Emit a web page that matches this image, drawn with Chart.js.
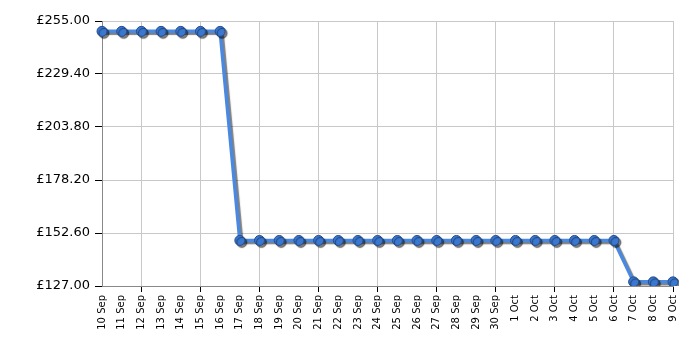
<!DOCTYPE html>
<html>
<head>
<meta charset="utf-8">
<script src="https://cdn.jsdelivr.net/npm/chart.js@4.4.0/dist/chart.umd.min.js"></script>
<style>
  html, body { margin: 0; padding: 0; background: #fff; }
  #wrap { width: 700px; height: 350px; }
</style>
</head>
<body>
<div id="wrap"><canvas id="priceChart" width="700" height="350"></canvas></div>
<script>
const labels = ['10 Sep', '11 Sep', '12 Sep', '13 Sep', '14 Sep', '15 Sep', '16 Sep', '17 Sep', '18 Sep', '19 Sep',
    '20 Sep', '21 Sep', '22 Sep', '23 Sep', '24 Sep', '25 Sep', '26 Sep', '27 Sep', '28 Sep', '29 Sep',
    '30 Sep', '1 Oct', '2 Oct', '3 Oct', '4 Oct', '5 Oct', '6 Oct', '7 Oct', '8 Oct', '9 Oct'];
const prices = [249.99, 249.99, 249.99, 249.99, 249.99, 249.99, 249.99, 149.00, 149.00, 149.00,
    149.00, 149.00, 149.00, 149.00, 149.00, 149.00, 149.00, 149.00, 149.00, 149.00,
    149.00, 149.00, 149.00, 149.00, 149.00, 149.00, 149.00, 129.00, 129.00, 129.00];
const yTicks = [127.00, 152.60, 178.20, 203.80, 229.40, 255.00];

// every third label gets a grid line, starting at 12 Sep
const gridCol = (ctx) => (ctx.index % 3 === 2 ? '#c8c8c8' : 'rgba(0,0,0,0)');
const tickCol = (ctx) => (ctx.index % 3 === 2 ? '#000' : 'rgba(0,0,0,0)');

const shadow = {
    id: 'shadow',
    beforeDatasetsDraw(chart) {
        const c = chart.ctx;
        c.save();
        c.shadowColor = 'rgba(0,0,0,0.5)';
        c.shadowBlur = 1;
        c.shadowOffsetX = 2;
        c.shadowOffsetY = 2;
    },
    afterDatasetsDraw(chart) {
        chart.ctx.restore();
    }
};

new Chart(document.getElementById('priceChart').getContext('2d'), {
    type: 'line',
    data: {
        labels: labels,
        datasets: [{
            data: prices,
            borderColor: '#4a89df',
            borderWidth: 3.5,
            backgroundColor: '#3a77cf',
            pointBackgroundColor: '#3a77cf',
            pointBorderColor: '#244c92',
            pointBorderWidth: 1,
            pointRadius: 5,
            tension: 0,
            fill: false
        }]
    },
    options: {
        responsive: false,
        animation: false,
        layout: { padding: { top: 21, right: 27, left: 0, bottom: 0 } },
        plugins: {
            legend: { display: false },
            tooltip: { enabled: false }
        },
        scales: {
            x: {
                offset: false,
                border: { color: '#888', width: 1 },
                grid: { color: gridCol, tickColor: tickCol, tickLength: 6, drawOnChartArea: true },
                ticks: {
                    autoSkip: false,
                    maxRotation: 90,
                    minRotation: 90,
                    padding: 3,
                    color: '#000',
                    font: { family: 'DejaVu Sans', size: 10 }
                },
                afterFit(scale) { scale.height = 64; }
            },
            y: {
                min: 127,
                max: 255,
                border: { color: '#888', width: 1 },
                grid: { color: '#c8c8c8', tickColor: '#000', tickLength: 7 },
                afterBuildTicks(scale) { scale.ticks = yTicks.map(v => ({ value: v })); },
                ticks: {
                    padding: 5,
                    color: '#000',
                    font: { family: 'DejaVu Sans', size: 13 },
                    callback: (v) => '£' + Number(v).toFixed(2)
                },
                afterFit(scale) { scale.width = 102; }
            }
        }
    },
    plugins: [shadow]
});
</script>
</body>
</html>
